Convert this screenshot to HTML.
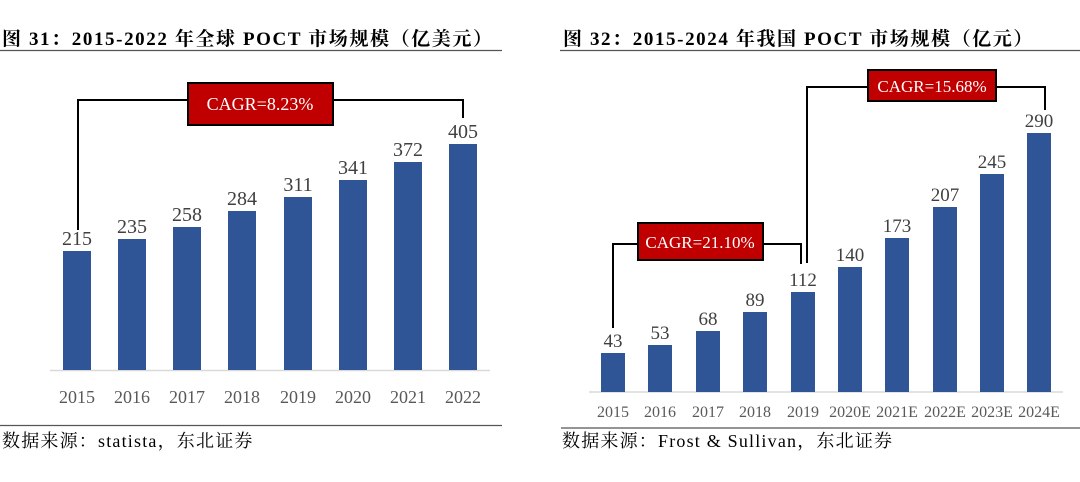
<!DOCTYPE html>
<html><head><meta charset="utf-8"><style>
body{margin:0;background:#fff;width:1080px;height:482px;overflow:hidden}
svg{display:block}
.t{font-family:"Liberation Serif","Noto Serif CJK SC",serif;font-weight:bold;font-size:19px;letter-spacing:1.6px;fill:#000}
.v{font-family:"Liberation Serif",serif;font-size:20px;fill:#404040;text-anchor:middle}
.x{font-family:"Liberation Serif",serif;font-size:18px;fill:#595959;text-anchor:middle}
.s{font-family:"Liberation Serif","Noto Serif CJK SC",serif;font-size:18px;letter-spacing:1.2px;fill:#000}
.c{font-family:"Liberation Serif",serif;font-size:18px;fill:#fff;text-anchor:middle}
</style></head><body>
<svg width="1080" height="482" viewBox="0 0 1080 482">
<text class="t" x="2" y="45">图 31：2015-2022 年全球 POCT 市场规模（亿美元）</text>
<line x1="0" y1="50.5" x2="502" y2="50.5" stroke="#555" stroke-width="1.2"/>
<line x1="50" y1="370.5" x2="490" y2="370.5" stroke="#d9d9d9" stroke-width="1.5"/>
<g fill="#2f5597">
<rect x="63" y="251" width="28" height="119"/><rect x="118" y="239" width="28" height="131"/>
<rect x="173" y="227" width="28" height="143"/><rect x="228" y="211" width="28" height="159"/>
<rect x="284" y="197" width="28" height="173"/><rect x="339" y="180" width="28" height="190"/>
<rect x="394" y="162" width="28" height="208"/><rect x="449" y="144" width="28" height="226"/>
</g>
<g class="v"><text x="77" y="245">215</text><text x="132" y="233">235</text><text x="187" y="221">258</text><text x="242" y="205">284</text><text x="298" y="191">311</text><text x="353" y="174">341</text><text x="408" y="156">372</text><text x="463" y="138">405</text></g>
<g class="x"><text x="77" y="403">2015</text><text x="132" y="403">2016</text><text x="187" y="403">2017</text><text x="242" y="403">2018</text><text x="298" y="403">2019</text><text x="353" y="403">2020</text><text x="408" y="403">2021</text><text x="463" y="403">2022</text></g>
<polyline points="78,230 78,100 463,100 463,118" fill="none" stroke="#000" stroke-width="2"/>
<rect x="188" y="83" width="145" height="42" fill="#c00000" stroke="#000" stroke-width="2"/>
<text class="c" x="260" y="110">CAGR=8.23%</text>
<line x1="0" y1="425.5" x2="502" y2="425.5" stroke="#555" stroke-width="1.2"/>
<text class="s" x="2" y="447">数据来源：statista，东北证券</text>

<text class="t" x="563" y="45">图 32：2015-2024 年我国 POCT 市场规模（亿元）</text>
<line x1="560" y1="50.5" x2="1080" y2="50.5" stroke="#555" stroke-width="1.2"/>
<line x1="589" y1="392" x2="1063" y2="392" stroke="#d9d9d9" stroke-width="1.5"/>
<g fill="#2f5597">
<rect x="601" y="353" width="24" height="39"/><rect x="648" y="345" width="24" height="47"/>
<rect x="696" y="331" width="24" height="61"/><rect x="743" y="312" width="24" height="80"/>
<rect x="791" y="292" width="24" height="100"/><rect x="838" y="267" width="24" height="125"/>
<rect x="885" y="238" width="24" height="154"/><rect x="933" y="207" width="24" height="185"/>
<rect x="980" y="174" width="24" height="218"/><rect x="1027" y="133" width="24" height="259"/>
</g>
<g class="v" style="font-size:19px"><text x="613" y="347">43</text><text x="660" y="339">53</text><text x="708" y="325">68</text><text x="755" y="306">89</text><text x="803" y="286">112</text><text x="850" y="261">140</text><text x="897" y="232">173</text><text x="945" y="201">207</text><text x="992" y="168">245</text><text x="1039" y="127">290</text></g>
<g class="x" style="font-size:16px"><text x="613" y="417">2015</text><text x="660" y="417">2016</text><text x="708" y="417">2017</text><text x="755" y="417">2018</text><text x="803" y="417">2019</text><text x="850" y="417">2020E</text><text x="897" y="417">2021E</text><text x="945" y="417">2022E</text><text x="992" y="417">2023E</text><text x="1039" y="417">2024E</text></g>
<polyline points="613,328 613,244 801,244 801,264" fill="none" stroke="#000" stroke-width="2"/>
<rect x="638" y="223" width="125" height="37" fill="#c00000" stroke="#000" stroke-width="2"/>
<text class="c" x="700" y="248" style="font-size:17px">CAGR=21.10%</text>
<polyline points="807,263 807,87 1045,87 1045,110" fill="none" stroke="#000" stroke-width="2"/>
<rect x="868" y="70" width="128" height="31" fill="#c00000" stroke="#000" stroke-width="2"/>
<text class="c" x="932" y="92" style="font-size:17px">CAGR=15.68%</text>
<line x1="561" y1="428" x2="1080" y2="428" stroke="#555" stroke-width="1.2"/>
<text class="s" x="562" y="447">数据来源：Frost &amp; Sullivan，东北证券</text>
</svg>
</body></html>
